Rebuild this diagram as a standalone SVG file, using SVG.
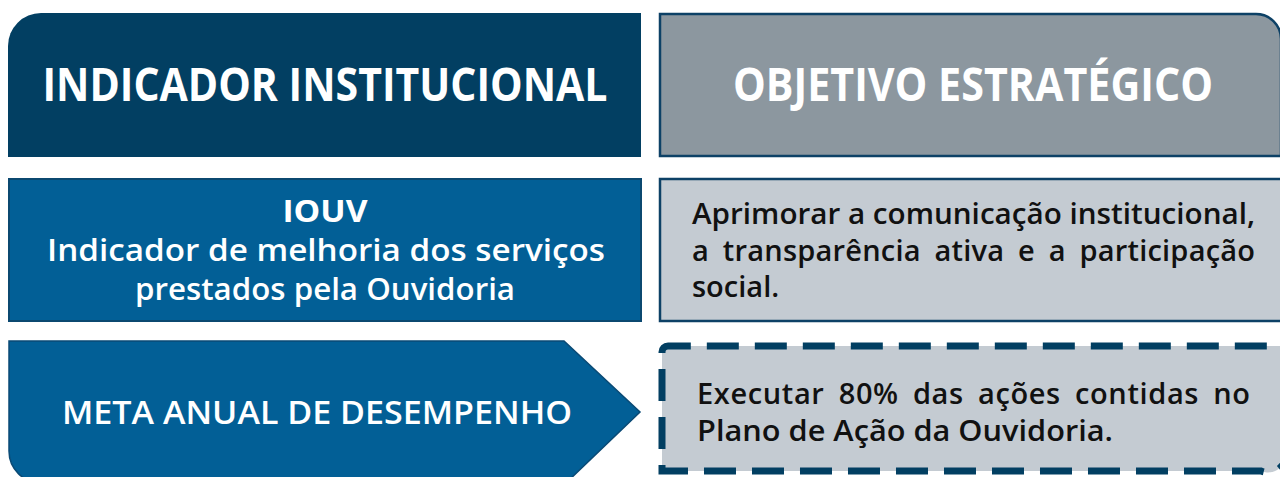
<svg xmlns="http://www.w3.org/2000/svg" width="1280" height="477" viewBox="0 0 1280 477">
<style>
.h{font-family:"Open Sans","Noto Sans",sans-serif;font-weight:700;fill:#ffffff;text-anchor:middle}
.w{font-family:"Open Sans","Noto Sans",sans-serif;font-weight:600;fill:#ffffff;text-anchor:middle}
.d{font-family:"Open Sans","Noto Sans",sans-serif;font-weight:600;fill:#111111}
</style>
<rect width="1280" height="477" fill="#ffffff"/>
<g id="indicador-header">
<path d="M8,157 V46 A33,33 0 0 1 41,13 H641 V157 Z" fill="#023f62"/>
<text class="h" x="325" y="101" font-size="46" textLength="565" lengthAdjust="spacingAndGlyphs">INDICADOR INSTITUCIONAL</text>
</g>
<g id="objetivo-header">
<path d="M660,14 H1256 A25,25 0 0 1 1281,39 V156 H660 Z" fill="#8c979f" stroke="#0d4166" stroke-width="2.5"/>
<text class="h" x="973" y="101" font-size="46" textLength="480" lengthAdjust="spacingAndGlyphs">OBJETIVO ESTRATÉGICO</text>
</g>
<g id="iouv">
<rect x="9" y="179" width="632" height="142" fill="#025f96" stroke="#0b4870" stroke-width="2"/>
<text class="h" x="325" y="222" font-size="31" textLength="85" lengthAdjust="spacingAndGlyphs">IOUV</text>
<text class="w" x="326" y="261" font-size="31" textLength="558" lengthAdjust="spacingAndGlyphs">Indicador de melhoria dos serviços</text>
<text class="w" x="325" y="300" font-size="31" textLength="380" lengthAdjust="spacingAndGlyphs">prestados pela Ouvidoria</text>
</g>
<g id="objetivo-texto">
<rect x="660" y="179" width="622" height="142" fill="#c4cbd2" stroke="#0d4166" stroke-width="2.5"/>
<text class="d" x="692" y="224" font-size="29" textLength="563" lengthAdjust="spacingAndGlyphs">Aprimorar a comunicação institucional,</text>
<text class="d" x="692" y="261" font-size="29" word-spacing="6" textLength="563" lengthAdjust="spacing">a transparência ativa e a participação</text>
<text class="d" x="692" y="297" font-size="29">social.</text>
</g>
<g id="meta">
<path d="M9,341 H564 L640,412 L566,483 H41 A32,32 0 0 1 9,451 Z" fill="#025f96" stroke="#0a4a75" stroke-width="1.5"/>
<text class="w" x="317" y="424" font-size="33" textLength="510" lengthAdjust="spacingAndGlyphs">META ANUAL DE DESEMPENHO</text>
</g>
<g id="meta-texto">
<path d="M662,352 A6,6 0 0 1 668,346 H1286 V453 A18,18 0 0 1 1261,471 H662 Z" fill="#c4cbd2" stroke="#023f62" stroke-width="7" stroke-dasharray="32 16"/>
<text class="d" x="697" y="404" font-size="29" word-spacing="6" textLength="553" lengthAdjust="spacing">Executar 80% das ações contidas no</text>
<text class="d" x="697" y="441" font-size="29" textLength="416" lengthAdjust="spacingAndGlyphs">Plano de Ação da Ouvidoria.</text>
</g>
<g id="connectors"></g>
</svg>
